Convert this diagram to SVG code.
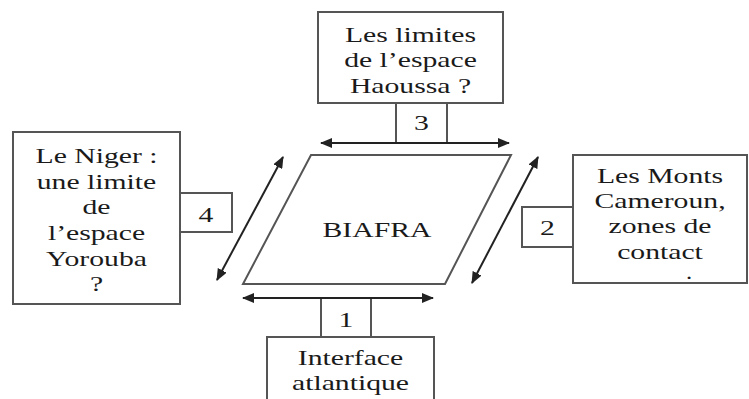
<svg xmlns="http://www.w3.org/2000/svg" width="749" height="399" viewBox="0 0 749 399">
<defs>
<marker id="ah" viewBox="0 0 12 10" refX="11" refY="5" markerWidth="12" markerHeight="10" markerUnits="userSpaceOnUse" orient="auto-start-reverse">
<path d="M0,0 L12,5 L0,10 Z" fill="#222"/>
</marker>
</defs>
<style>
.box{fill:#fff;stroke:#555;stroke-width:2}
.con{stroke:#222;stroke-width:2;fill:none;marker-start:url(#ah);marker-end:url(#ah)}
.t{font-family:"Liberation Serif","Times New Roman",serif;font-size:22px;fill:#1a1a1a;text-anchor:middle}
</style>
<rect width="749" height="399" fill="#fff"/>

<g id="biafra">
<polygon class="box" points="311,155 511,155 445,284 243,284" stroke="#333"/>
<text class="t" transform="translate(377,237) scale(1.35,1)">BIAFRA</text>
</g>

<g id="haoussa">
<rect class="box" x="318" y="12" width="185" height="91"/>
<text class="t" transform="translate(410.5,42) scale(1.35,1)">Les limites</text>
<text class="t" transform="translate(410.5,67) scale(1.35,1)">de l’espace</text>
<text class="t" transform="translate(410.5,93) scale(1.35,1)">Haoussa ?</text>
</g>
<g id="label3">
<rect class="box" x="396" y="103" width="51" height="40"/>
<text class="t" transform="translate(421.5,130) scale(1.35,1)">3</text>
</g>

<g id="niger">
<rect class="box" x="13" y="132" width="167" height="172"/>
<text class="t" transform="translate(96.5,163) scale(1.35,1)">Le Niger :</text>
<text class="t" transform="translate(96.5,189) scale(1.35,1)">une limite</text>
<text class="t" transform="translate(96.5,214) scale(1.35,1)">de</text>
<text class="t" transform="translate(96.5,240) scale(1.35,1)">l’espace</text>
<text class="t" transform="translate(96.5,266) scale(1.35,1)">Yorouba</text>
<text class="t" transform="translate(96.5,291) scale(1.35,1)">?</text>
</g>
<g id="label4">
<rect class="box" x="180" y="193" width="52" height="39"/>
<text class="t" transform="translate(206,222) scale(1.35,1)">4</text>
</g>

<g id="cameroun">
<rect class="box" x="573" y="155" width="174" height="128"/>
<text class="t" transform="translate(660,183) scale(1.35,1)">Les Monts</text>
<text class="t" transform="translate(660,208) scale(1.35,1)">Cameroun,</text>
<text class="t" transform="translate(660,233) scale(1.35,1)">zones de</text>
<text class="t" transform="translate(660,259) scale(1.35,1)">contact</text>
<text class="t" style="font-size:14px;font-weight:bold" transform="translate(689,279) scale(1.35,1)">.</text>
</g>
<g id="label2">
<rect class="box" x="522" y="207" width="51" height="40"/>
<text class="t" transform="translate(547.5,235) scale(1.35,1)">2</text>
</g>

<g id="atlantique">
<rect class="box" x="267" y="337" width="167" height="70"/>
<text class="t" transform="translate(350.5,365) scale(1.35,1)">Interface</text>
<text class="t" transform="translate(350.5,390) scale(1.35,1)">atlantique</text>
</g>
<g id="label1">
<rect class="box" x="321" y="298" width="50" height="39"/>
<text class="t" transform="translate(346,327) scale(1.35,1)">1</text>
</g>

<g id="connectors">
<line class="con" x1="321" y1="143" x2="509" y2="143"/>
<line class="con" x1="243" y1="298" x2="433" y2="298"/>
<line class="con" x1="283" y1="157" x2="217" y2="280"/>
<line class="con" x1="538" y1="157" x2="472" y2="283"/>
</g>
</svg>
